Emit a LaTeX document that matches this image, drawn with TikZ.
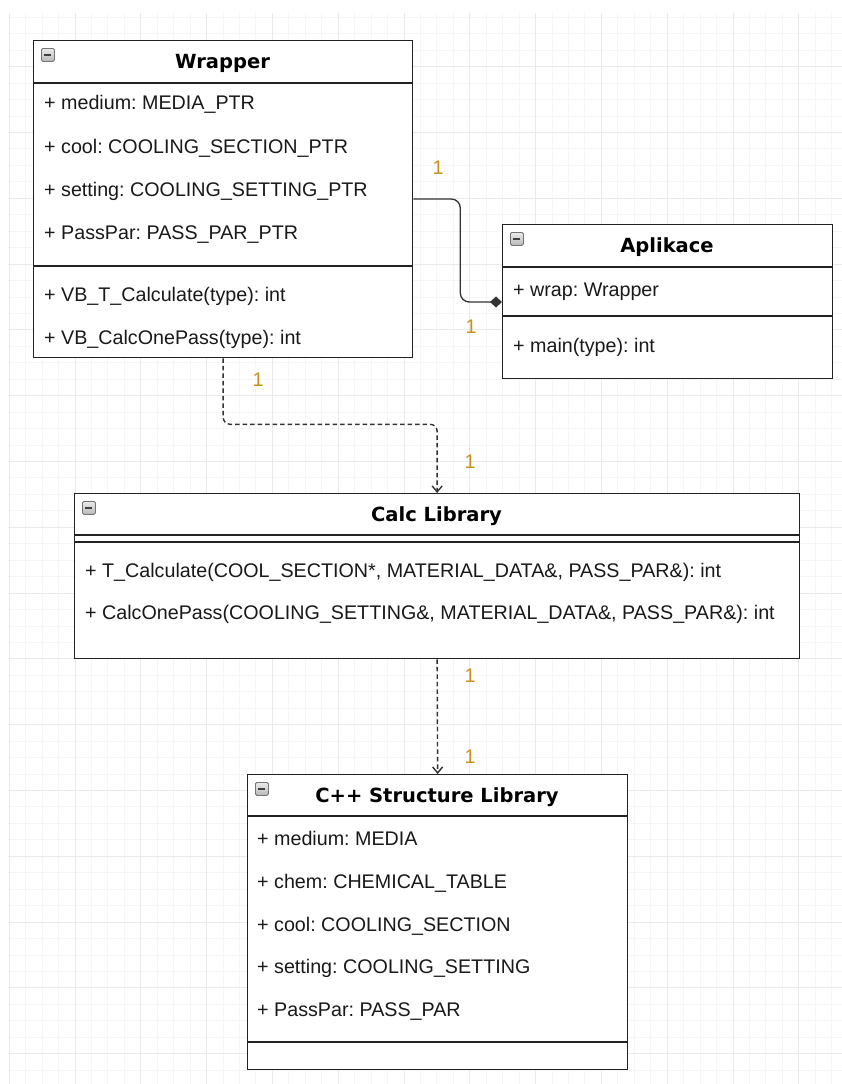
\documentclass[tikz,border=0pt]{standalone}
\usepackage{fontspec}
\setmainfont{Liberation Sans}
\newfontfamily\headfont{DejaVu Sans}
\usetikzlibrary{arrows.meta}
\frenchspacing

\definecolor{linegray}{HTML}{222222}
\definecolor{wiregray}{HTML}{333333}
\definecolor{multgold}{HTML}{C8901E}
\definecolor{gridminor}{HTML}{F6F6F6}
\definecolor{gridmajor}{HTML}{EAEAEA}

\tikzset{
  classbox/.style={draw=linegray, line width=1.3pt, fill=white, anchor=north west, inner sep=0pt},
  divider/.style={draw=linegray, line width=1.3pt},
  classname/.style={inner sep=0pt, font=\headfont\bfseries\fontsize{19.5}{22}\selectfont, text=black},
  member/.style={anchor=base west, inner sep=0pt, font=\fontsize{19.7}{22}\selectfont, text=black!90},
  mult/.style={inner sep=0pt, font=\fontsize{19.7}{22}\selectfont, text=multgold},
  toggle/.style={draw=black!55, line width=0.8pt, rounded corners=1.5pt, top color=black!8, bottom color=black!28,
    minimum size=13pt, inner sep=0pt, anchor=north west,
    path picture={\draw[line width=2pt, black!75] ([xshift=-3.5pt]path picture bounding box.center) -- ([xshift=3.5pt]path picture bounding box.center);}},
  dependency/.style={draw=wiregray, line width=1.4pt, dash pattern=on 4.5pt off 3pt, rounded corners=7pt,
    -{Straight Barb[length=6pt,width=10pt]}},
  composition/.style={draw=wiregray, line width=1.3pt, rounded corners=9pt, -{Diamond[length=12pt,width=11pt]}}
}

\begin{document}
\begin{tikzpicture}[x=1pt, y=-1pt]
    \fill[white] (0,0) rectangle (842,1084);
    % background grid, minor lines first then every fourth one darker
    \begin{scope}
    \clip (8,13) rectangle (842,1084);
    \foreach \i in {0,...,50} \draw[gridminor, line width=1pt] ({9.2+16.45*\i},13) -- ++(0,1071);
    \foreach \j in {0,...,65} \draw[gridminor, line width=1pt] (8,{0.9+16.45*\j}) -- ++(834,0);
    \foreach \i in {0,...,12} \draw[gridmajor, line width=1pt] ({9.2+65.8*\i},13) -- ++(0,1071);
    \foreach \j in {1,...,16} \draw[gridmajor, line width=1pt] (8,{0.9+65.8*\j}) -- ++(834,0);
    \end{scope}

    % Wrapper
    \node[classbox, minimum width=379pt, minimum height=317pt] (wrapper) at (33,40) {};
    \draw[divider] (wrapper.west |- 0,83) -- (wrapper.east |- 0,83);
    \draw[divider] (wrapper.west |- 0,266) -- (wrapper.east |- 0,266);
    \node[toggle] (wrapperToggle) at (41,48) {};
    \node[classname] (wrapperName) at (222.5,63) {Wrapper};
    \node[member] (wrapMedium) at (44,109) {+ medium: MEDIA\_PTR};
    \node[member] (wrapCool) at (44,153) {+ cool: COOLING\_SECTION\_PTR};
    \node[member] (wrapSetting) at (44,196) {+ setting: COOLING\_SETTING\_PTR};
    \node[member] (wrapPassPar) at (44,239) {+ PassPar: PASS\_PAR\_PTR};
    \node[member] (wrapCalc) at (44,301) {+ VB\_T\_Calculate(type): int};
    \node[member] (wrapOnePass) at (44,344) {+ VB\_CalcOnePass(type): int};

    % Aplikace
    \node[classbox, minimum width=330pt, minimum height=154pt] (aplikace) at (502,224) {};
    \draw[divider] (aplikace.west |- 0,267) -- (aplikace.east |- 0,267);
    \draw[divider] (aplikace.west |- 0,316) -- (aplikace.east |- 0,316);
    \node[toggle] (aplikaceToggle) at (510,232) {};
    \node[classname] (aplikaceName) at (667,247.5) {Aplikace};
    \node[member] (aplWrap) at (513,296) {+ wrap: Wrapper};
    \node[member] (aplMain) at (513,352) {+ main(type): int};

    % Calc Library
    \node[classbox, minimum width=725pt, minimum height=165pt] (calc) at (74,493) {};
    \draw[divider] (calc.west |- 0,535) -- (calc.east |- 0,535);
    \draw[divider] (calc.west |- 0,542) -- (calc.east |- 0,542);
    \node[toggle] (calcToggle) at (82,501) {};
    \node[classname] (calcName) at (436.5,516.5) {Calc Library};
    \node[member] (calcT) at (85,577) {+ T\_Calculate(COOL\_SECTION*, MATERIAL\_DATA\&, PASS\_PAR\&): int};
    \node[member] (calcPass) at (85,619) {+ CalcOnePass(COOLING\_SETTING\&, MATERIAL\_DATA\&, PASS\_PAR\&): int};

    % C++ Structure Library
    \node[classbox, minimum width=380pt, minimum height=295pt] (cpp) at (247,774) {};
    \draw[divider] (cpp.west |- 0,816) -- (cpp.east |- 0,816);
    \draw[divider] (cpp.west |- 0,1042) -- (cpp.east |- 0,1042);
    \node[toggle] (cppToggle) at (255,782) {};
    \node[classname] (cppName) at (437,797.5) {C++ Structure Library};
    \node[member] (cppMedium) at (257,845) {+ medium: MEDIA};
    \node[member] (cppChem) at (257,888) {+ chem: CHEMICAL\_TABLE};
    \node[member] (cppCool) at (257,931) {+ cool: COOLING\_SECTION};
    \node[member] (cppSetting) at (257,973) {+ setting: COOLING\_SETTING};
    \node[member] (cppPassPar) at (257,1016) {+ PassPar: PASS\_PAR};

    % connectors
    \coordinate (wrapOut) at (wrapper.east |- 0,199);
    \coordinate (aplIn) at (aplikace.west |- 0,302);
    \draw[composition] (wrapOut) -- ++(47,0) |- (aplIn);
    \draw[dependency] (wrapper.south) -- ++(0,66) -| (calc.north);
    \draw[dependency] (calc.south) -- (cpp.north);

    % multiplicities
    \node[mult] (mWrapOut) at (438,168) {1};
    \node[mult] (mAplIn) at (471,327) {1};
    \node[mult] (mWrapDown) at (258,380) {1};
    \node[mult] (mCalcIn) at (470,462) {1};
    \node[mult] (mCalcOut) at (470,676) {1};
    \node[mult] (mCppIn) at (470,757) {1};
\end{tikzpicture}
\end{document}
